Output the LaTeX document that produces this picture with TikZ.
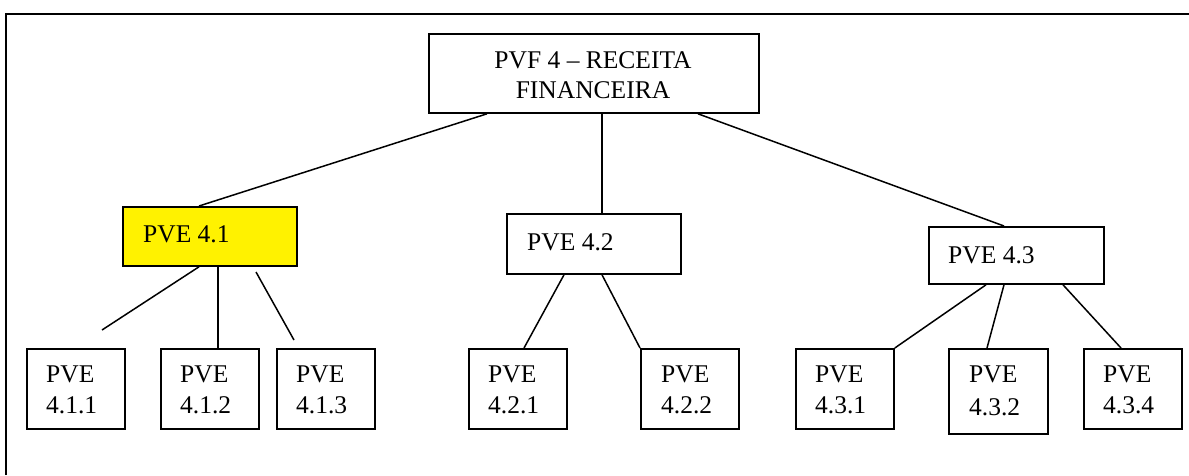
\documentclass[tikz,border=0pt]{standalone}
\usepackage{fontspec}
\setmainfont{Liberation Serif}
\begin{document}
\begin{tikzpicture}[x=1pt,y=-1pt,
  box/.style={draw,line width=1.8pt,inner sep=0pt,anchor=north west},
  leaf/.style={box,minimum width=98pt,minimum height=80pt},
  txt/.style={inner sep=0pt,anchor=base west,align=left,
    font=\fontsize{25.5}{31}\selectfont},
  link/.style={line width=1.5pt},
  frame/.style={line width=2pt}]
\useasboundingbox (0,0) rectangle (1189,475);

% outer frame (top and left edges)
\coordinate (fl) at (6,475);
\coordinate (fc) at (6,14);
\coordinate (fr) at (1189,14);
\draw[frame] (fl) -- (fc) -- (fr);

% root
\node[box,minimum width=330pt,minimum height=79pt] (root) at (428,33) {};
\node[inner sep=0pt,anchor=base,align=center,
  font=\fontsize{25.5}{30}\selectfont] (troot) at (593,98)
  {PVF 4 -- RECEITA\\FINANCEIRA};

% second level
\node[box,fill=yellow,minimum width=174pt,minimum height=59pt] (b41) at (122,206) {};
\node[txt] (t41) at (143,242) {PVE 4.1};
\node[box,minimum width=174pt,minimum height=60pt] (b42) at (506,213) {};
\node[txt] (t42) at (527,250) {PVE 4.2};
\node[box,minimum width=175pt,minimum height=57pt] (b43) at (928,226) {};
\node[txt] (t43) at (948,263) {PVE 4.3};

% leaves (text anchored at the baseline of its last line)
\node[leaf] (b411) at (26,348) {};
\node[txt] (t411) at (46,413) {PVE\\4.1.1};
\node[leaf] (b412) at (160,348) {};
\node[txt] (t412) at (180,413) {PVE\\4.1.2};
\node[leaf] (b413) at (276,348) {};
\node[txt] (t413) at (296,413) {PVE\\4.1.3};
\node[leaf] (b421) at (468,348) {};
\node[txt] (t421) at (488,413) {PVE\\4.2.1};
\node[leaf] (b422) at (640,348) {};
\node[txt] (t422) at (661,413) {PVE\\4.2.2};
\node[leaf] (b431) at (795,348) {};
\node[txt] (t431) at (815,413) {PVE\\4.3.1};
\node[leaf,minimum width=99pt,minimum height=85pt] (b432) at (948,348) {};
\node[txt,font=\fontsize{25.5}{33}\selectfont] (t432) at (969,415) {PVE\\4.3.2};
\node[leaf] (b434) at (1083,348) {};
\node[txt] (t434) at (1103,413) {PVE\\4.3.4};

% free ends of the connectors below PVE 4.1
\coordinate (e411) at (102,330);
\coordinate (s413) at (256,272);
\coordinate (e413) at (294,340);

% connectors from the root
\draw[link] ([xshift=59pt]root.south west) -- ([xshift=77pt]b41.north west);
\draw[link] ([xshift=174pt]root.south west) -- ([xshift=96pt]b42.north west);
\draw[link] ([xshift=270pt]root.south west) -- ([xshift=76pt]b43.north west);

% connectors below PVE 4.1
\draw[link] ([xshift=77pt]b41.south west) -- (e411);
\draw[link] ([xshift=96pt]b41.south west) -- ([xshift=58pt]b412.north west);
\draw[link] (s413) -- (e413);

% connectors below PVE 4.2
\draw[link] ([xshift=58pt]b42.south west) -- ([xshift=56pt]b421.north west);
\draw[link] ([xshift=96pt]b42.south west) -- (b422.north west);

% connectors below PVE 4.3
\draw[link] ([xshift=58pt]b43.south west) -- (b431.north east);
\draw[link] ([xshift=76pt]b43.south west) -- ([xshift=39pt]b432.north west);
\draw[link] ([xshift=135pt]b43.south west) -- ([xshift=38pt]b434.north west);
\end{tikzpicture}
\end{document}
